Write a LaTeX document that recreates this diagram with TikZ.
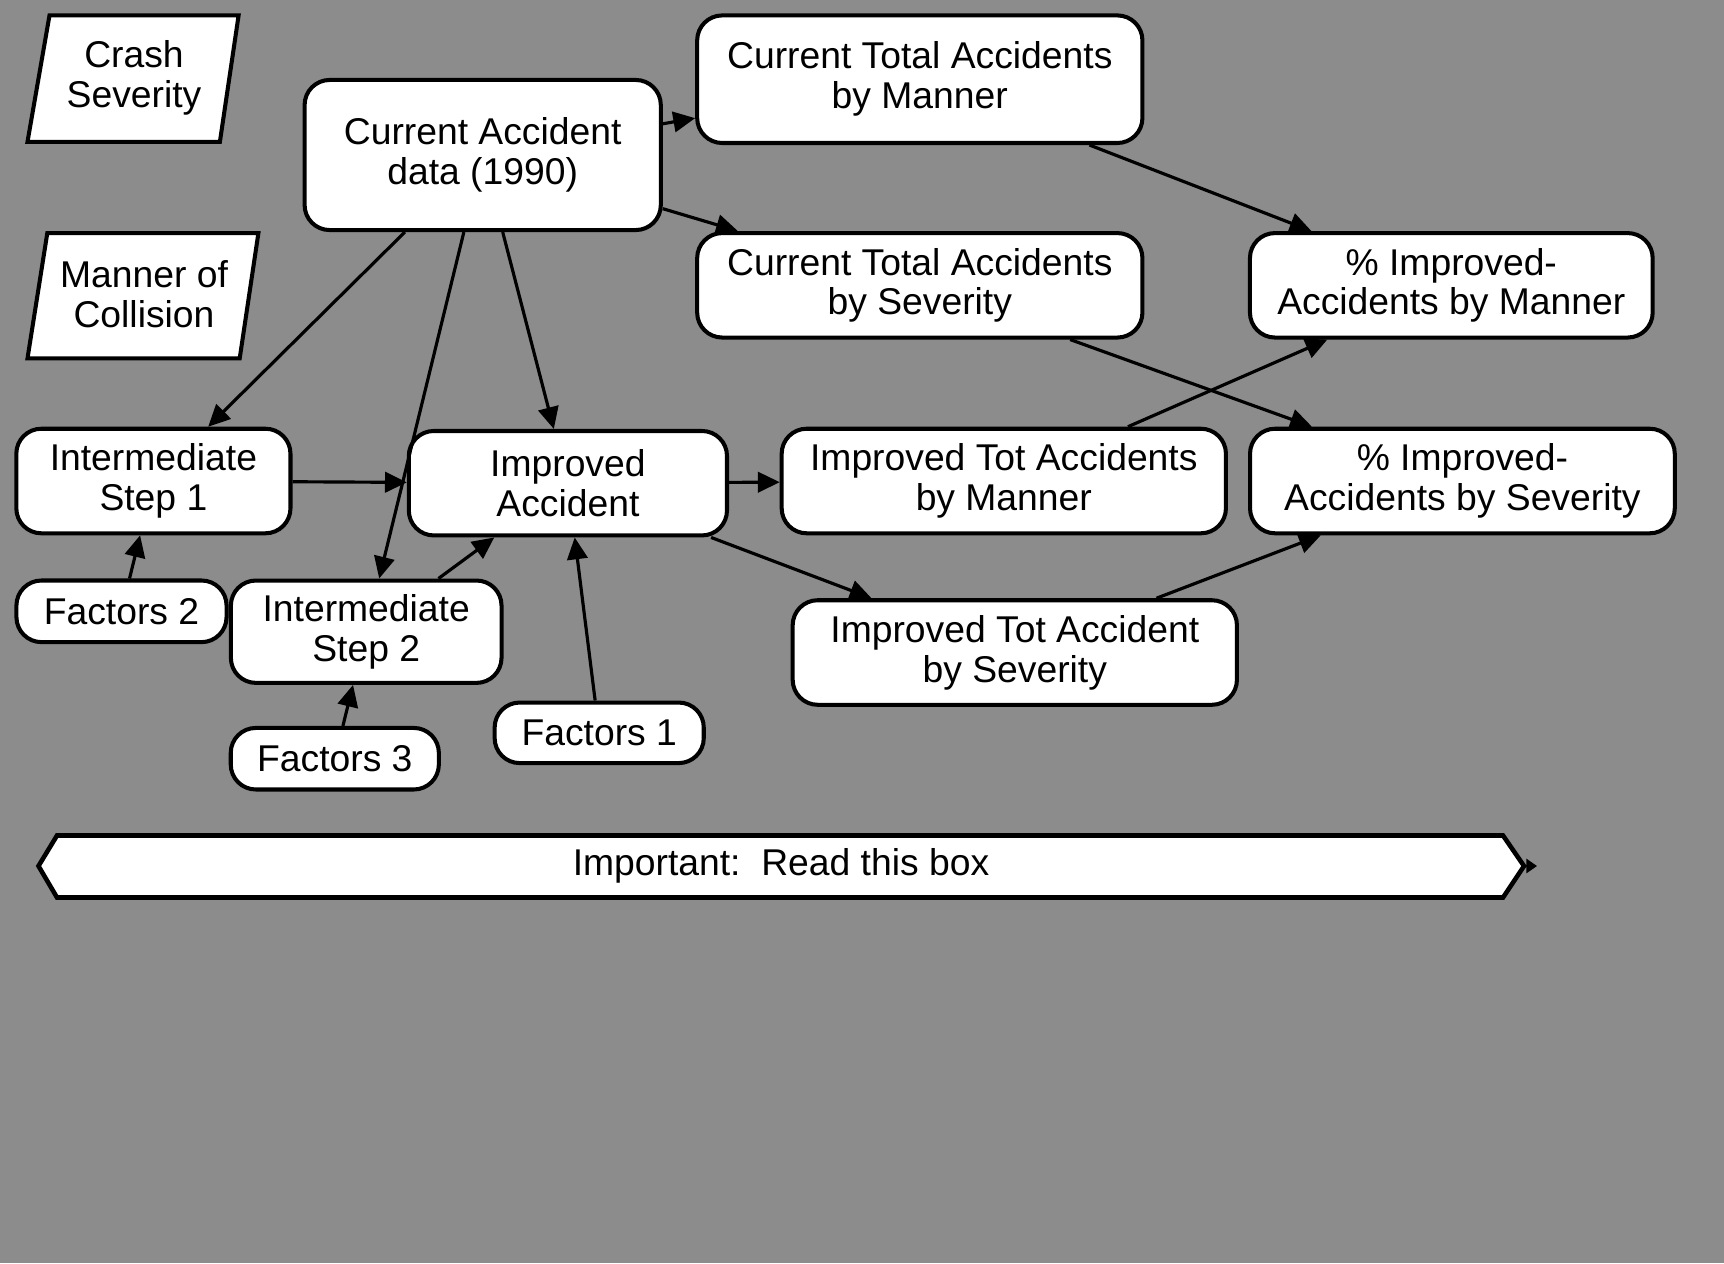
\documentclass[tikz,border=0pt]{standalone}
\usepackage{fontspec}
\setmainfont{Liberation Sans}
\usetikzlibrary{arrows.meta,calc}
\begin{document}
\begin{tikzpicture}[x=0.01cm,y=-0.01cm,
  txt/.style={align=center, inner sep=0pt, font=\fontsize{10.6}{11.3}\selectfont},
  box/.style={txt, draw, line width=1.15pt, fill=white, rounded corners=0.25cm},
  outline/.style={draw, line width=1.15pt, fill=white},
  link/.style={line width=0.9pt, -{Triangle[length=6.2pt,width=5.8pt]}}
]
% halftone-grey page
\fill[black!45] (0,0) rectangle (1724,1263);
\useasboundingbox (0,0) rectangle (1724,1263);

% slanted legend boxes
\draw[outline] (49.5,15.4) -- (238.6,15.4) -- (219.9,141.8) -- (27.5,141.8) -- cycle;
\node[txt] (crash) at (134,78) {Crash\\Severity};
\draw[outline] (47.3,233.1) -- (258.4,233.1) -- (239.7,358.4) -- (27.5,358.4) -- cycle;
\node[txt] (manner) at (144,294) {Manner of\\Collision};

% model nodes
\node[box, minimum width=3.56cm, minimum height=1.50cm] (cad)  at (482.7,155)   {Current Accident\\data (1990)};
\node[box, minimum width=4.45cm, minimum height=1.275cm] (ctam) at (919.8,79.2) {Current Total Accidents\\by Manner};
\node[box, minimum width=4.45cm, minimum height=1.044cm] (ctas) at (919.8,285.3) {Current Total Accidents\\by Severity};
\node[box, minimum width=4.025cm, minimum height=1.044cm] (pim) at (1451.3,285.3) {\% Improved-\\Accidents by Manner};
\node[box, minimum width=2.74cm, minimum height=1.045cm] (is1) at (153.4,481)   {Intermediate\\Step 1};
\node[box, minimum width=3.18cm, minimum height=1.044cm] (ia)  at (567.9,483.2) {Improved\\Accident};
\node[box, minimum width=4.44cm, minimum height=1.045cm] (itm) at (1003.8,481)  {Improved Tot Accidents\\by Manner};
\node[box, minimum width=4.245cm, minimum height=1.045cm] (pis) at (1462.4,481) {\% Improved-\\Accidents by Severity};
\node[box, minimum width=2.10cm, minimum height=0.616cm] (f2)  at (121.5,611.3) {Factors 2};
\node[box, minimum width=2.705cm, minimum height=1.023cm] (is2) at (366.2,631.7) {Intermediate\\Step 2};
\node[box, minimum width=4.44cm, minimum height=1.045cm] (its) at (1014.8,652.5) {Improved Tot Accident\\by Severity};
\node[box, minimum width=2.08cm, minimum height=0.615cm] (f3)  at (334.8,758.7) {Factors 3};
\node[box, minimum width=2.09cm, minimum height=0.605cm] (f1)  at (599.2,732.8) {Factors 1};

% connectors
\draw[link] (cad) -- (ctam);
\draw[link] (cad) -- (ctas);
\draw[link] (cad) -- (is1);
\draw[link] (cad) -- (is2);
\draw[link] (cad) -- (ia);
\draw[link] (ctam) -- (pim);
\draw[link] (ctas) -- (pis);
\draw[link] (itm) -- (pim);
\draw[link] (is1) -- (ia);
\draw[link] (ia) -- (itm);
\draw[link] (ia) -- (its);
\draw[link] (its) -- (pis);
\draw[link] (f2) -- (is1);
\draw[link] (is2) -- (ia);
\draw[link] (f3) -- (is2);
\draw[link] (f1) -- (ia);

% note banner
\draw[outline, line width=1.3pt] (38.5,866) -- (57,835.5) -- (1503,835.5) -- (1524,866)
  -- (1503,897.5) -- (57,897.5) -- cycle;
\node[txt] (note) at (781,866) {Important:\ \ Read this box};
\coordinate (tipend) at (1537,866);
\draw[line width=0.6pt, -{Triangle[length=3pt,width=4pt]}] (1526,866) -- (tipend);
\end{tikzpicture}
\end{document}
